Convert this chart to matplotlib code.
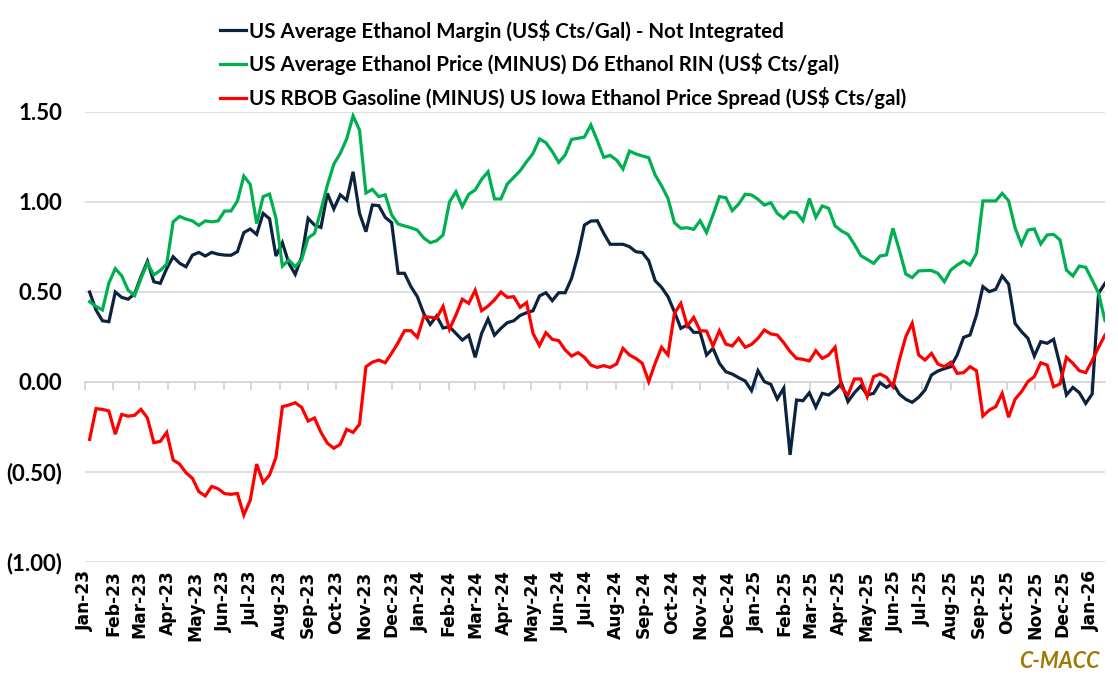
import numpy as np
import pandas as pd
import matplotlib
matplotlib.use("Agg")
import matplotlib.pyplot as plt
import matplotlib.ticker as mticker

# weekly series, Fridays from 6 Jan 2023
dates = pd.date_range("2023-01-06", periods=159, freq="7D")

margin = [
    0.50, 0.40, 0.34, 0.335, 0.50, 0.47, 0.46, 0.49, 0.585, 0.67,
    0.557, 0.548, 0.63, 0.696, 0.66, 0.64, 0.705, 0.72, 0.70, 0.72,
    0.71, 0.705, 0.704, 0.724, 0.83, 0.85, 0.82, 0.937, 0.907, 0.70,
    0.774, 0.66, 0.598, 0.696, 0.909, 0.872, 0.859, 1.048, 0.961, 1.04,
    1.01, 1.168, 0.937, 0.835, 0.983, 0.98, 0.915, 0.885, 0.604, 0.604,
    0.53, 0.474, 0.38, 0.32, 0.367, 0.30, 0.307, 0.27, 0.233, 0.26,
    0.137, 0.27, 0.35, 0.26, 0.298, 0.33, 0.34, 0.37, 0.385, 0.396,
    0.478, 0.496, 0.452, 0.496, 0.496, 0.576, 0.706, 0.872, 0.894, 0.896,
    0.826, 0.765, 0.765, 0.765, 0.752, 0.724, 0.719, 0.674, 0.563, 0.526,
    0.474, 0.39, 0.298, 0.317, 0.276, 0.276, 0.15, 0.187, 0.104, 0.057,
    0.044, 0.024, 0.006, -0.048, 0.063, 0.002, -0.013, -0.094, -0.035, -0.405,
    -0.10, -0.104, -0.06, -0.14, -0.063, -0.072, -0.044, -0.007, -0.109, -0.06,
    -0.022, -0.072, -0.063, -0.004, -0.03, -0.007, -0.067, -0.096, -0.113, -0.085,
    -0.044, 0.039, 0.061, 0.074, 0.085, 0.15, 0.248, 0.261, 0.372, 0.53,
    0.502, 0.515, 0.589, 0.544, 0.326, 0.28, 0.243, 0.144, 0.224, 0.215,
    0.237, 0.094, -0.072, -0.03, -0.059, -0.119, -0.067, 0.493, 0.548,
]

price_less_rin = [
    0.446, 0.42, 0.40, 0.55, 0.63, 0.59, 0.51, 0.48, 0.575, 0.66,
    0.595, 0.62, 0.655, 0.89, 0.92, 0.905, 0.895, 0.87, 0.895, 0.89,
    0.895, 0.95, 0.95, 1.005, 1.144, 1.098, 0.88, 1.03, 1.044, 0.91,
    0.644, 0.678, 0.64, 0.68, 0.80, 0.826, 0.955, 1.094, 1.21, 1.27,
    1.35, 1.478, 1.40, 1.05, 1.07, 1.03, 1.04, 0.928, 0.878, 0.867,
    0.857, 0.844, 0.80, 0.774, 0.785, 0.817, 1.00, 1.057, 0.974, 1.043,
    1.067, 1.126, 1.168, 1.017, 1.017, 1.10, 1.137, 1.174, 1.224, 1.27,
    1.35, 1.33, 1.28, 1.22, 1.261, 1.348, 1.354, 1.361, 1.428, 1.341,
    1.248, 1.259, 1.233, 1.183, 1.283, 1.267, 1.256, 1.246, 1.15, 1.09,
    1.02, 0.885, 0.854, 0.857, 0.848, 0.896, 0.83, 0.928, 1.03, 1.024,
    0.952, 0.989, 1.043, 1.039, 1.015, 0.983, 0.996, 0.937, 0.909, 0.946,
    0.941, 0.896, 1.019, 0.915, 0.978, 0.965, 0.867, 0.839, 0.82, 0.765,
    0.702, 0.681, 0.659, 0.70, 0.706, 0.854, 0.733, 0.60, 0.58, 0.617,
    0.619, 0.619, 0.604, 0.557, 0.622, 0.65, 0.672, 0.65, 0.715, 1.006,
    1.006, 1.006, 1.048, 1.007, 0.857, 0.765, 0.844, 0.85, 0.767, 0.817,
    0.82, 0.789, 0.622, 0.589, 0.644, 0.637, 0.567, 0.493, 0.341,
]

rbob_spread = [
    -0.319, -0.148, -0.152, -0.161, -0.29, -0.18, -0.19, -0.185, -0.152, -0.20,
    -0.337, -0.33, -0.28, -0.433, -0.456, -0.504, -0.535, -0.609, -0.633, -0.58,
    -0.593, -0.62, -0.624, -0.619, -0.739, -0.656, -0.456, -0.559, -0.517, -0.419,
    -0.137, -0.128, -0.115, -0.141, -0.217, -0.20, -0.28, -0.34, -0.368, -0.346,
    -0.263, -0.28, -0.235, 0.085, 0.11, 0.122, 0.107, 0.16, 0.218, 0.285,
    0.285, 0.248, 0.363, 0.36, 0.354, 0.42, 0.293, 0.372, 0.46, 0.437,
    0.51, 0.396, 0.422, 0.456, 0.50, 0.47, 0.474, 0.415, 0.441, 0.27,
    0.202, 0.274, 0.237, 0.23, 0.178, 0.144, 0.163, 0.137, 0.094, 0.081,
    0.091, 0.081, 0.10, 0.187, 0.15, 0.131, 0.104, 0.002, 0.104, 0.193,
    0.15, 0.381, 0.437, 0.311, 0.359, 0.285, 0.283, 0.20, 0.285, 0.211,
    0.20, 0.243, 0.193, 0.209, 0.243, 0.289, 0.267, 0.261, 0.219, 0.169,
    0.131, 0.126, 0.117, 0.174, 0.131, 0.15, 0.193, -0.03, -0.072, 0.017,
    0.017, -0.081, 0.03, 0.044, 0.026, -0.026, 0.122, 0.252, 0.326, 0.15,
    0.122, 0.159, 0.10, 0.085, 0.11, 0.048, 0.052, 0.085, 0.063, -0.189,
    -0.156, -0.137, -0.063, -0.196, -0.096, -0.054, 0.002, 0.03, 0.107, 0.094,
    -0.026, -0.011, 0.137, 0.104, 0.063, 0.052, 0.119, 0.193, 0.261,
]

labels = [
    "US Average Ethanol Margin (US$ Cts/Gal) - Not Integrated",
    "US Average Ethanol Price (MINUS) D6 Ethanol RIN (US$ Cts/gal)",
    "US RBOB Gasoline (MINUS) US Iowa Ethanol Price Spread (US$ Cts/gal)",
]
colors = ["#0c2340", "#00b050", "#ff0000"]

month_ticks = pd.date_range("2023-01-01", "2026-01-01", freq="MS")

narrow = ["Lato", "DejaVu Sans"]

fig = plt.figure(figsize=(11.18, 6.83), dpi=100)
ax = fig.add_axes([85 / 1118, 1 - 562 / 683, 1020 / 1118, 450 / 683])

for ys, lab, c in zip([margin, price_less_rin, rbob_spread], labels, colors):
    ax.plot(dates, ys, color=c, lw=2.3, label=lab, solid_joinstyle="miter")

ax.set_ylim(-1.0, 1.5)
ax.set_xlim(pd.Timestamp("2023-01-01"), pd.Timestamp("2026-01-16"))
ax.set_yticks([-1.0, -0.5, 0.0, 0.5, 1.0, 1.5])
ax.yaxis.set_major_formatter(mticker.FuncFormatter(
    lambda v, p: f"({abs(v):.2f})" if v < 0 else f"{v:.2f}"))
ax.yaxis.grid(True, color="#d9d9d9", lw=1.2)
ax.set_axisbelow(True)
for s in ax.spines.values():
    s.set_visible(False)
ax.tick_params(axis="y", length=0, pad=16.5)
for t in ax.get_yticklabels():
    t.set_family(narrow)
    t.set_fontsize(16)
    t.set_fontweight("bold")

ax.set_xticks(month_ticks)
ax.set_xticklabels([d.strftime("%b-%y") for d in month_ticks], rotation=90,
                   fontsize=12.3, fontweight="bold", family="DejaVu Sans")
ax.tick_params(axis="x", length=0, pad=6)

# axis line with month ticks sitting on zero
zero = ax.secondary_xaxis(0.4)
zero.set_xticks(month_ticks)
zero.tick_params(axis="x", direction="out", length=6, color="#cfcfcf",
                 width=1.2, labelbottom=False, labeltop=False)
zero.spines["bottom"].set_color("#cfcfcf")
zero.spines["bottom"].set_linewidth(1.2)
zero.spines["top"].set_visible(False)

leg = ax.legend(loc="upper left", bbox_to_anchor=(201 / 1118, 1 - 1 / 683),
                bbox_transform=fig.transFigure, frameon=False,
                handlelength=1.3, handletextpad=0.12, labelspacing=0.58,
                prop={"family": narrow, "weight": "bold", "size": 14.8})

fig.text(1100 / 1118, 1 - 662 / 683, "C-MACC", ha="right", va="center",
         color="#9c7a00", fontsize=15.5, fontweight="bold", style="italic",
         family=narrow)

fig.savefig("out.png", dpi=100)
